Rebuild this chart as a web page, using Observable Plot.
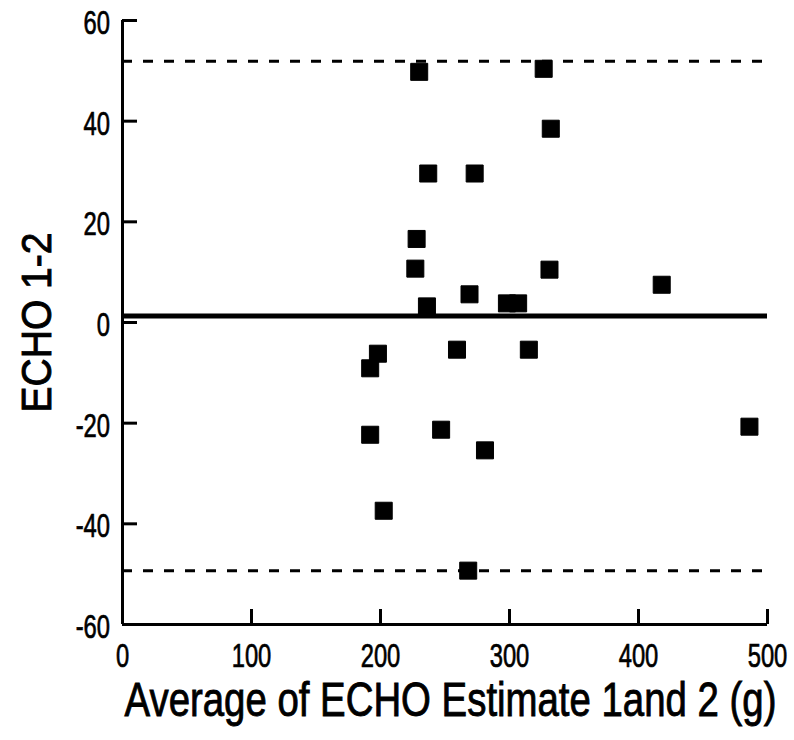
<!DOCTYPE html>
<html><head><meta charset="utf-8">
<script src="https://cdn.jsdelivr.net/npm/d3@7"></script>
<script src="https://cdn.jsdelivr.net/npm/@observablehq/plot@0.6"></script>
<style>
body{margin:0;background:#fff}
#chart svg{font-family:"Liberation Sans",Arial,sans-serif}
</style>
</head><body><div id="chart"></div>
<script>
const avgEstimate = [230, 326.5, 332, 237, 273, 228, 227, 331, 418, 236, 269, 298, 306.7, 259.3, 315, 247, 281, 486, 268, 198, 192, 192, 202.5];
const diffEcho    = [49.8, 50.4, 38.5, 29.6, 29.6, 16.6, 10.7, 10.5, 7.5, 3.2, 5.6, 3.8, 3.8, -5.4, -5.4, -21.3, -25.4, -20.7, -49.3, -6.2, -9.1, -22.3, -37.4];
const meanDiff = 1.3;
const upperLimit = 51.9;
const lowerLimit = -49.3;
const xTicks = [0, 100, 200, 300, 400, 500];
const yTicks = [-60, -40, -20, 0, 20, 40, 60];
const xLabel = "Average of ECHO Estimate 1and 2 (g)";
const yLabel = "ECHO 1-2";

const points = avgEstimate.map((x, i) => ({x, y: diffEcho[i]}));

const chart = Plot.plot({
  width: 794,
  height: 740,
  marginTop: 20,
  marginBottom: 116,
  marginLeft: 122,
  marginRight: 27,
  x: {domain: [0, 500]},
  y: {domain: [-60, 60]},
  style: {background: "#fff", color: "#000"},
  marks: [
    Plot.ruleY([upperLimit, lowerLimit], {stroke: "#000", strokeWidth: 3, strokeDasharray: "10 11"}),
    Plot.ruleY([meanDiff], {stroke: "#000", strokeWidth: 5}),
    Plot.dot(points, {x: "x", y: "y", symbol: "square", r: 9.6, fill: "#000", stroke: "#000", strokeWidth: 1, strokeLinejoin: "round"}),
    Plot.ruleX([0], {stroke: "#000", strokeWidth: 3}),
    Plot.ruleY([-60], {stroke: "#000", strokeWidth: 3}),
    Plot.axisY(yTicks, {tickSize: 0, tickPadding: 12.5, fontSize: 33, dy: 3, label: null, tickFormat: d => String(d)}),
    Plot.axisY(yTicks, {tickSize: -15, text: null, strokeWidth: 3, label: null}),
    Plot.axisX(xTicks, {tickSize: 0, tickPadding: 19, fontSize: 33, label: null}),
    Plot.axisX(xTicks, {tickSize: -15, text: null, strokeWidth: 3, label: null}),
    Plot.text([xLabel], {text: d => d, frameAnchor: "bottom", textAnchor: "middle", dy: 76, dx: 5.5, fontSize: 49, lineAnchor: "middle"}),
    Plot.text([yLabel], {text: d => d, frameAnchor: "left", textAnchor: "middle", dx: -85, rotate: -90, fontSize: 42, lineAnchor: "middle"})
  ]
});
document.getElementById("chart").appendChild(chart);

// condense text horizontally (about its anchor, the local origin) to mimic the narrow typeface of the original
chart.querySelectorAll("text").forEach(t => {
  const s = t.textContent;
  const w = t.getComputedTextLength();
  let k;
  if (s === xLabel) k = 652 / w;
  else if (s === yLabel) k = 180 / w;
  else k = 0.72;
  const tr = t.getAttribute("transform") || "";
  t.setAttribute("transform", `${tr} scale(${k.toFixed(4)},1)`.trim());
  t.setAttribute("stroke", "#000");
  t.setAttribute("stroke-width", s === xLabel || s === yLabel ? 0.9 : 0.7);
});
</script>
</body></html>
